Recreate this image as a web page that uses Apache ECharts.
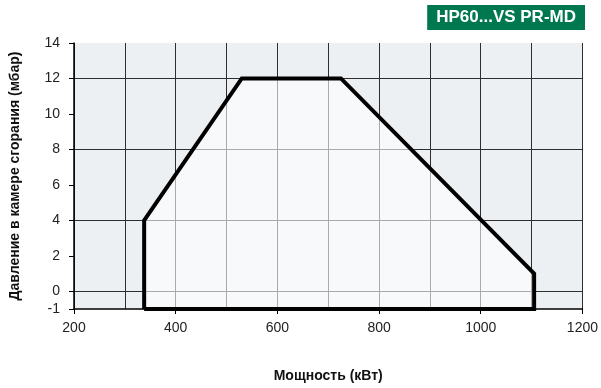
<!DOCTYPE html>
<html>
<head>
<meta charset="utf-8">
<script src="https://cdn.jsdelivr.net/npm/echarts@6/dist/echarts.min.js"></script>
<style>
  html, body { margin: 0; padding: 0; background: #fff; }
  #chart { width: 601px; height: 388px; }
</style>
</head>
<body>
<div id="chart"></div>
<script>
// Operating envelope of the burner: output (kW) vs. combustion chamber pressure (mbar)
const envelopePower = [338, 338, 530, 725, 1105, 1105, 338];
const envelopePressure = [-1, 4, 12, 12, 1, -1, -1];
const yTickValues = [-1, 0, 2, 4, 6, 8, 10, 12, 14];

const chartTitle = 'HP60...VS PR-MD';
const xName = 'Мощность (кВт)';
const yName = 'Давление в камере сгорания (мбар)';

const envelope = envelopePower.map((p, i) => [p, envelopePressure[i]]);

const font = '"Liberation Sans", Arial, sans-serif';
const gridDark = '#2e2e2e';

const chart = echarts.init(document.getElementById('chart'), null, { renderer: 'canvas' });
chart.setOption({
  animation: false,
  backgroundColor: '#ffffff',
  title: {
    text: chartTitle,
    right: 16,
    top: 5,
    backgroundColor: '#00784f',
    padding: [4, 9, 4, 9],
    textStyle: { color: '#ffffff', fontFamily: font, fontWeight: 'bold', fontSize: 17 }
  },
  grid: {
    left: 73, right: 18, top: 43, bottom: 77,
    show: true, backgroundColor: '#edf0f3', borderWidth: 0
  },
  xAxis: {
    type: 'value',
    min: 200, max: 1200, interval: 200,
    name: xName,
    nameLocation: 'middle',
    nameGap: 60,
    nameTextStyle: { fontFamily: font, fontWeight: 'bold', fontSize: 14, color: '#111' },
    axisLine: { show: true, onZero: false, lineStyle: { color: '#000', width: 1.5 } },
    axisTick: { show: true, length: 5, lineStyle: { color: '#000' } },
    axisLabel: { margin: 12, fontFamily: font, fontSize: 14, color: '#222', formatter: v => String(v) },
    splitLine: { show: true, lineStyle: { color: gridDark, width: 1 } },
    minorTick: { show: false, splitNumber: 2 },
    minorSplitLine: { show: true, lineStyle: { color: gridDark, width: 1 } }
  },
  yAxis: {
    type: 'value',
    min: -1, max: 14, interval: 1,
    name: yName,
    nameLocation: 'middle',
    nameGap: 52,
    nameTextStyle: { fontFamily: font, fontWeight: 'bold', fontSize: 14, color: '#111' },
    axisLine: { show: true, onZero: false, lineStyle: { color: '#000', width: 1.5 } },
    axisTick: { show: true, length: 5, lineStyle: { color: '#000' }, customValues: yTickValues },
    axisLabel: { margin: 14, fontFamily: font, fontSize: 14, color: '#222', customValues: yTickValues },
    splitLine: { show: true, lineStyle: { color: ['rgba(0,0,0,0)', gridDark], width: 1 } }
  },
  series: [{
    type: 'line',
    data: envelope,
    symbol: 'none',
    z: 5,
    lineStyle: { color: '#000', width: 4, join: 'miter' },
    areaStyle: { origin: 'start', color: 'rgba(255,255,255,0.6)', opacity: 1 }
  }]
});
</script>
</body>
</html>
